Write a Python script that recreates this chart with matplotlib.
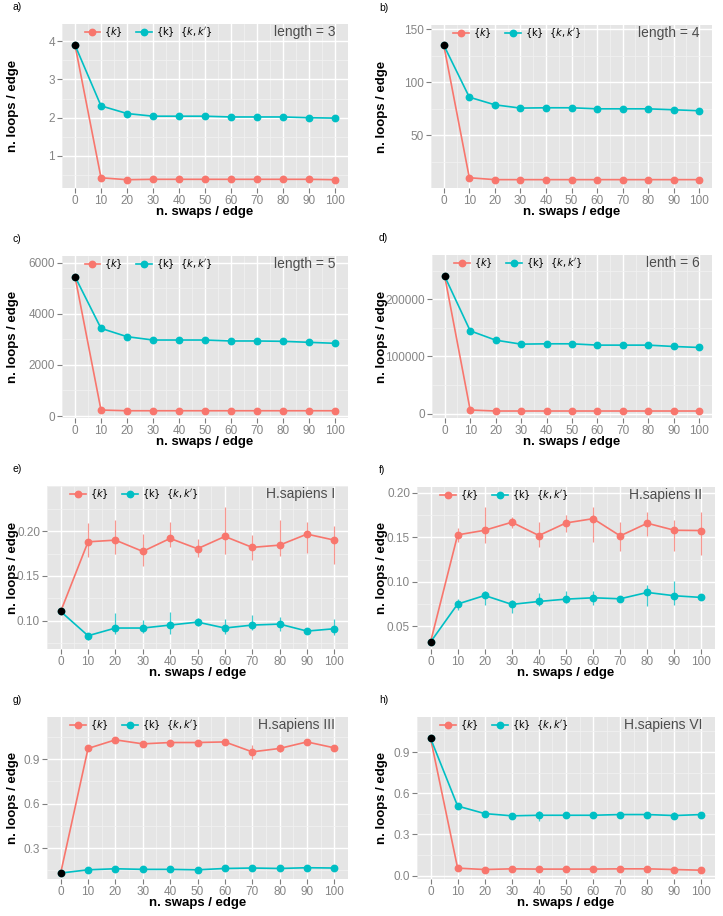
import numpy as np
import matplotlib
matplotlib.use("Agg")
import matplotlib.pyplot as plt
from matplotlib.ticker import FixedLocator, AutoMinorLocator

plt.rcParams['font.family'] = ['Liberation Sans', 'DejaVu Sans']
plt.rcParams['mathtext.fontset'] = 'dejavusans'

RED = '#F8766D'
CYAN = '#00BFC4'
W, H = 723, 916

swaps = [0, 10, 20, 30, 40, 50, 60, 70, 80, 90, 100]
xticks = swaps
labels = [r'$\{k\}$', r'$\{\mathrm{k}\}\ \ \{k,k^{\prime}\}$']

# a) length = 3
a_k = [3.90, 0.43, 0.38, 0.39, 0.39, 0.39, 0.39, 0.39, 0.39, 0.39, 0.38]
a_kk = [3.90, 2.31, 2.11, 2.04, 2.04, 2.04, 2.02, 2.02, 2.02, 2.00, 1.99]
# b) length = 4
b_k = [135.0, 9.7, 7.9, 7.9, 7.9, 7.9, 7.9, 7.9, 7.9, 7.9, 7.9]
b_kk = [135.0, 85.8, 78.6, 75.5, 75.8, 75.8, 74.8, 74.8, 74.8, 73.9, 73.0]
# c) length = 5
c_k = [5455, 233, 206, 206, 206, 206, 206, 206, 206, 206, 206]
c_kk = [5455, 3430, 3104, 2973, 2973, 2973, 2935, 2935, 2922, 2883, 2844]
# d) lenth = 6
d_k = [240100, 6400, 4650, 4650, 4650, 4650, 4650, 4650, 4650, 4650, 4650]
d_kk = [240100, 144800, 128500, 121500, 122100, 122100, 119800, 119800, 119800, 117400, 115700]

# e) H.sapiens I  (error ranges start at 10 swaps)
e_k = [0.1104, 0.1881, 0.1900, 0.1774, 0.1919, 0.1804, 0.1941, 0.1819, 0.1844, 0.1967, 0.1900]
e_k_lo = [0.1707, 0.1748, 0.1615, 0.1826, 0.1715, 0.1744, 0.1678, 0.1719, 0.1756, 0.1637]
e_k_hi = [0.2093, 0.2119, 0.1963, 0.2107, 0.1907, 0.2267, 0.1956, 0.2130, 0.2107, 0.2059]
e_kk = [0.1104, 0.0833, 0.0919, 0.0919, 0.0952, 0.0985, 0.0919, 0.0952, 0.0963, 0.0885, 0.0911]
e_kk_lo = [0.0789, 0.0852, 0.0863, 0.0856, 0.0937, 0.0856, 0.0893, 0.0881, 0.0874, 0.0844]
e_kk_hi = [0.0863, 0.1085, 0.1007, 0.1100, 0.1030, 0.1019, 0.1070, 0.1044, 0.0907, 0.1019]

# f) H.sapiens II
f_k = [0.0325, 0.1526, 0.1578, 0.1668, 0.1519, 0.1660, 0.1708, 0.1515, 0.1657, 0.1578, 0.1575]
f_k_lo = [0.1444, 0.1433, 0.1608, 0.1396, 0.1563, 0.1452, 0.1340, 0.1519, 0.1347, 0.1303]
f_k_hi = [0.1601, 0.1835, 0.1731, 0.1668, 0.1750, 0.1835, 0.1668, 0.1787, 0.1697, 0.1780]
f_kk = [0.0325, 0.0751, 0.0847, 0.0747, 0.0780, 0.0806, 0.0821, 0.0810, 0.0881, 0.0844, 0.0825]
f_kk_lo = [0.0679, 0.0736, 0.0656, 0.0724, 0.0762, 0.0736, 0.0780, 0.0724, 0.0743, 0.0799]
f_kk_hi = [0.0806, 0.0902, 0.0799, 0.0873, 0.0892, 0.0899, 0.0836, 0.0966, 0.1004, 0.0847]

# g) H.sapiens III
g_k = [0.132, 0.972, 1.030, 1.003, 1.012, 1.012, 1.016, 0.949, 0.972, 1.016, 0.976]
g_k_lo = [0.962, 1.020, 0.993, 0.983, 1.002, 1.006, 0.900, 0.949, 1.006, 0.956]
g_k_hi = [0.982, 1.040, 1.013, 1.028, 1.022, 1.026, 0.994, 0.987, 1.026, 0.994]
g_kk = [0.132, 0.154, 0.161, 0.157, 0.157, 0.154, 0.163, 0.166, 0.163, 0.168, 0.166]
g_kk_lo = [0.149, 0.156, 0.152, 0.152, 0.149, 0.158, 0.161, 0.158, 0.163, 0.161]
g_kk_hi = [0.159, 0.166, 0.162, 0.162, 0.159, 0.168, 0.171, 0.168, 0.173, 0.171]

# h) H.sapiens VI
h_k = [1.000, 0.055, 0.045, 0.050, 0.048, 0.048, 0.048, 0.050, 0.050, 0.045, 0.040]
h_k_lo = [0.048, 0.038, 0.043, 0.041, 0.041, 0.041, 0.043, 0.043, 0.038, 0.033]
h_k_hi = [0.062, 0.052, 0.057, 0.055, 0.055, 0.055, 0.057, 0.057, 0.052, 0.047]
h_kk = [1.000, 0.507, 0.452, 0.436, 0.440, 0.440, 0.440, 0.445, 0.445, 0.438, 0.445]
h_kk_lo = [0.488, 0.440, 0.428, 0.400, 0.430, 0.430, 0.435, 0.435, 0.410, 0.435]
h_kk_hi = [0.524, 0.465, 0.444, 0.469, 0.450, 0.450, 0.455, 0.455, 0.464, 0.455]

panels = [
    # tag, title, k, kk, errors, yticks, yticklabels, ylim, box (l, t, r, b px)
    ('a)', 'length = 3', a_k, a_kk, None, [1, 2, 3, 4], ['1', '2', '3', '4'],
     (0.163, 4.45), (62, 24, 348, 188)),
    ('b)', 'length = 4', b_k, b_kk, None, [50, 100, 150], ['50', '100', '150'],
     (0, 154), (431, 25, 712, 188)),
    ('c)', 'length = 5', c_k, c_kk, None, [0, 2000, 4000, 6000], ['0', '2000', '4000', '6000'],
     (-78, 6260), (62, 256, 348, 418)),
    ('d)', 'lenth = 6', d_k, d_kk, None, [0, 100000, 200000], ['0', '100000', '200000'],
     (-7560, 277300), (432, 255, 712, 418)),
    ('e)', 'H.sapiens I', e_k, e_kk, (e_k_lo, e_k_hi, e_kk_lo, e_kk_hi),
     [0.10, 0.15, 0.20], ['0.10', '0.15', '0.20'], (0.0685, 0.2504), (47, 486, 348, 649)),
    ('f)', 'H.sapiens II', f_k, f_kk, (f_k_lo, f_k_hi, f_kk_lo, f_kk_hi),
     [0.05, 0.10, 0.15, 0.20], ['0.05', '0.10', '0.15', '0.20'], (0.0247, 0.2063), (417, 487, 715, 649)),
    ('g)', 'H.sapiens III', g_k, g_kk, (g_k_lo, g_k_hi, g_kk_lo, g_kk_hi),
     [0.3, 0.6, 0.9], ['0.3', '0.6', '0.9'], (0.092, 1.184), (47, 717, 348, 879)),
    ('h)', 'H.sapiens VI', h_k, h_kk, (h_k_lo, h_k_hi, h_kk_lo, h_kk_hi),
     [0.0, 0.3, 0.6, 0.9], ['0.0', '0.3', '0.6', '0.9'], (-0.024, 1.155), (417, 717, 715, 879)),
]


def fig_rect(box):
    l, t, r, b = box
    return [l / W, 1 - b / H, (r - l) / W, (b - t) / H]


fig = plt.figure(figsize=(W / 100, H / 100), dpi=100)
fig.patch.set_facecolor('white')

for i, (tag, title, yk, ykk, err, yt, ytl, ylim, box) in enumerate(panels):
    ax = fig.add_axes(fig_rect(box))
    ax.set_facecolor('#E5E5E5')
    for s in ax.spines.values():
        s.set_visible(False)

    ax.set_xlim(-5, 105)
    ax.set_ylim(*ylim)
    ax.xaxis.set_major_locator(FixedLocator(xticks))
    ax.set_xticklabels([str(v) for v in xticks])
    ax.yaxis.set_major_locator(FixedLocator(yt))
    ax.set_yticklabels(ytl)
    ax.xaxis.set_minor_locator(AutoMinorLocator(2))
    ax.yaxis.set_minor_locator(AutoMinorLocator(2))
    ax.grid(which='major', color='white', lw=1.0)
    ax.grid(which='minor', color='#F2F2F2', lw=0.5)
    ax.set_axisbelow(True)
    ax.tick_params(which='major', length=3.5, width=0.8, color='#7F7F7F',
                   labelcolor='#858585', labelsize=8.5, pad=1.5)
    ax.tick_params(which='minor', length=0)

    if err is not None:
        k_lo, k_hi, kk_lo, kk_hi = err
        ax.vlines(swaps[1:], k_lo, k_hi, color=RED, lw=0.9, alpha=0.75, zorder=2)
        ax.vlines(swaps[1:], kk_lo, kk_hi, color=CYAN, lw=0.9, alpha=0.75, zorder=2)

    ax.plot(swaps, yk, '-o', color=RED, lw=1.2, ms=4.6, zorder=3, label=labels[0])
    ax.plot(swaps, ykk, '-o', color=CYAN, lw=1.2, ms=4.6, zorder=3, label=labels[1])
    # starting (real network) value
    ax.plot(swaps[0], yk[0], 'o', color='black', ms=4.4, zorder=4)

    ax.legend(loc='upper left', bbox_to_anchor=(0.055, 1.035), ncol=2, frameon=False,
              fontsize=7, handlelength=1.6, handletextpad=0.4, columnspacing=1.4,
              borderaxespad=0.3)

    ax.annotate(title, xy=(1, 1), xycoords='axes fraction', xytext=(-9, -6),
                textcoords='offset points', ha='right', va='center',
                fontsize=10, color='#4D4D4D')

    l, t, r, b = box
    col = 0 if l < 362 else 1
    fig.text((13 + 366 * col) / W, 1 - (t - 17) / H, tag, fontsize=7.5,
             ha='left', va='center')
    fig.text((13 + 369 * col) / W, 1 - ((t + b) / 2) / H, 'n. loops / edge',
             rotation=90, ha='center', va='center', fontsize=9.5, fontweight='bold')
    fig.text(((l + r) / 2) / W, 1 - (b + 24) / H, 'n. swaps / edge',
             ha='center', va='center', fontsize=9.5, fontweight='bold')

fig.savefig('out.png', dpi=100)
